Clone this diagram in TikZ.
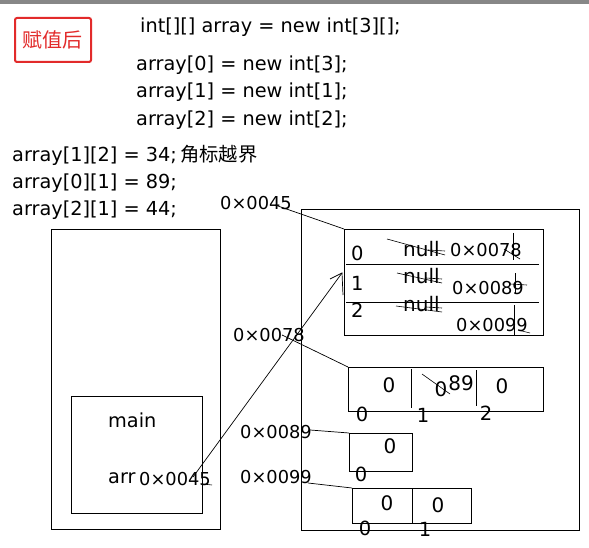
\documentclass[tikz,border=0pt]{standalone}
\usepackage{fontspec}
\setmainfont{DejaVu Sans}
\newfontfamily\cjk{Noto Sans CJK SC}
\definecolor{redc}{RGB}{226,42,42}
\definecolor{barc}{RGB}{135,135,135}
\begin{document}
\begin{tikzpicture}[x=1pt,y=-1pt,
  code/.style={font=\fontsize{19.3}{22}\selectfont,anchor=base west,inner sep=0pt},
  lbl/.style={font=\fontsize{17.8}{20}\selectfont,anchor=base west,inner sep=0pt},
  nul/.style={font=\fontsize{20}{24}\selectfont,anchor=base west,inner sep=0pt},
  val/.style={font=\fontsize{20}{24}\selectfont,inner sep=0pt},
  idx/.style={font=\fontsize{19.5}{22}\selectfont,inner sep=0pt},
  box/.style={draw,line width=0.8pt,anchor=north west,inner sep=0pt},
  ln/.style={line width=0.7pt},
  strike/.style={line width=0.6pt}]
\useasboundingbox (0,0) rectangle (589,548);
\fill[white] (0,0) rectangle (589,548);
\fill[barc] (0,0) rectangle (589,4);
% red tag
\node[draw=redc,line width=2pt,rounded corners=2pt,minimum width=76pt,minimum height=44pt,
  text=redc,font=\cjk\fontsize{20}{24}\selectfont,inner sep=0pt] (tag) at (53,40) {赋值后};
% code text
\node[code] (c1) at (140,33) {int[][] array = new int[3][];};
\node[code] (c2) at (136,71) {array[0] = new int[3];};
\node[code] (c3) at (136,98) {array[1] = new int[1];};
\node[code] (c4) at (136,126) {array[2] = new int[2];};
\node[code] (c5) at (12,162) {array[1][2] = 34;\,{\cjk 角标越界}};
\node[code] (c6) at (12,189) {array[0][1] = 89;};
\node[code] (c7) at (12,216) {array[2][1] = 44;};
% stack
\node[box,minimum width=169pt,minimum height=300pt] (stack) at (51,229) {};
\node[box,minimum width=131pt,minimum height=117pt] (mainbox) at (71,396) {};
\node[code] (mainlbl) at (108,427) {main};
\node[code] (arrlbl) at (108,483) {arr};
\node[lbl] (arrval) at (139,485) {0×0045};
% heap
\node[box,minimum width=278pt,minimum height=321pt] (heap) at (301,209) {};
% array of references
\node[box,minimum width=199pt,minimum height=106pt] (box1) at (344,229) {};
\draw[ln] (346,264) -- (539,264);
\draw[ln] (346,302) -- (539,302);
\node[idx,anchor=base west] (i10) at (351,260) {0};
\node[idx,anchor=base west] (i11) at (351,290) {1};
\node[idx,anchor=base west] (i12) at (351,317) {2};
\node[nul] (n0) at (403,257) {null};
\node[nul] (n1) at (403,283) {null};
\node[nul] (n2) at (403,311) {null};
\node[lbl] (r0) at (450,257) {0×0078};
\node[lbl] (r1) at (452,294) {0×0089};
\node[lbl] (r2) at (456,331) {0×0099};
% strike-outs
\draw[strike] (387,239) -- (445,255);
\draw[strike] (428,250) -- (445,251);
\draw[strike] (397,273) -- (442,283);
\draw[strike] (426,278) -- (442,279);
\draw[strike] (396,306) -- (442,312);
\draw[strike] (426,307) -- (442,308);
\draw[strike] (513,233) -- (513,260);
\draw[strike] (504,249) -- (520,259);
\draw[strike] (515,273) -- (515,294);
\draw[strike] (510,284) -- (527,285);
\draw[strike] (514,305) -- (514,335);
\draw[strike] (518,330) -- (530,333);
% int[3]
\node[box,minimum width=195pt,minimum height=44pt] (box2) at (348,367) {};
\draw[ln] (411,369) -- (411,408);
\draw[ln] (476,370) -- (476,406);
\node[val] (v20) at (389,385) {0};
\node[val] (v21) at (441,389) {0};
\draw[strike] (422,374) -- (450,394);
\node[val] (v21b) at (461,383) {89};
\node[val] (v22) at (502,386) {0};
\node[idx] (i20) at (362,414) {0};
\node[idx] (i21) at (423,415) {1};
\node[idx] (i22) at (486,413) {2};
% int[1]
\node[box,minimum width=63pt,minimum height=38pt] (box3) at (349,433) {};
\node[val] (v30) at (390,446) {0};
\node[idx] (i30) at (361,474) {0};
% int[2]
\node[box,minimum width=119pt,minimum height=35pt] (box4) at (352,488) {};
\draw[ln] (412,488) -- (412,523);
\node[val] (v40) at (387,503) {0};
\node[val] (v41) at (438,505) {0};
\node[idx] (i40) at (365,528) {0};
\node[idx] (i41) at (425,529) {1};
% address labels
\node[lbl] (a45) at (220,210) {0×0045};
\node[lbl] (a78) at (233,341) {0×0078};
\node[lbl] (a89) at (240,438) {0×0089};
\node[lbl] (a99) at (240,483) {0×0099};
% connectors
\coordinate (s45) at (275,205);
\coordinate (s78) at (282,335);
\coordinate (s89) at (310,430);
\coordinate (s99) at (308,483);
\draw[ln] (s45) -- (box1.north west);
\draw[ln] (s78) -- (box2.north west);
\draw[ln] (s89) -- (box3.north west);
\draw[ln] (s99) -- (box4.north west);
\coordinate (sarr) at (193,477);
\coordinate (tip) at (342,273);
\coordinate (w1) at (330,279);
\coordinate (w2) at (343,295);
\draw[ln] (sarr) -- (tip);
\draw[ln] (w1) -- (tip) -- (w2);
\draw[strike] (203,484) -- (212,485);
\end{tikzpicture}
\end{document}
